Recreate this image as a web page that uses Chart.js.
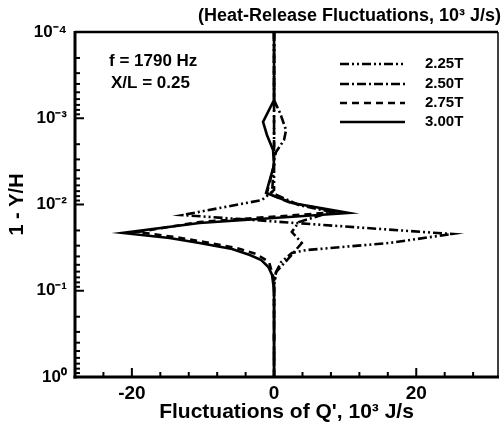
<!DOCTYPE html>
<html><head><meta charset="utf-8">
<script src="https://cdn.jsdelivr.net/npm/chart.js@4/dist/chart.umd.min.js"></script>
<style>html,body{margin:0;padding:0;background:#fff;}</style>
</head><body>
<canvas id="c" width="502" height="429"></canvas>
<script>
// ---- data (1 - Y/H values and Q' fluctuation values, 10^3 J/s) ----
const seriesNames = ['2.25T', '2.50T', '2.75T', '3.00T'];

const s225_pos = [1e-4, 6.79e-3, 8.87e-3, 0.01325, 0.02198, 0.02793, 0.03377, 0.0365, 0.0465, 0.06067, 0.0857, 1];
const s225_q   = [0,    0,       -1.7,    -12.9,   25.0,    16.2,    4.5,     2.5,    1.0,    0.28,    0,      0];

const s250_pos = [1e-4, 6.14e-4, 8.69e-4, 1.37e-3, 1.79e-3, 2.46e-3, 3.05e-3, 7.36e-3, 0.01014, 0.01222, 0.01596, 0.02085, 0.02793, 0.04168, 0.06067, 0.0857, 1];
const s250_q   = [0,    0,       0.84,    1.69,    1.4,     0.28,    0,       -0.28,   3.5,     8.1,     3.5,     2.5,     3.9,     2.1,     0.28,    0,      0];

const s275_pos = [1e-4, 3.48e-3, 7.36e-3, 9.61e-3, 0.01222, 0.01596, 0.02085, 0.02383, 0.02722, 0.0319, 0.0375, 0.0465, 0.075, 1];
const s275_q   = [0,    0,       -1.0,    2.4,     9.1,     -10.5,   -19.2,   -14.0,   -9.8,    -5.3,   -2.5,   -0.7,   0,     0];

const s300_pos = [1e-4, 6.14e-4, 8.01e-4, 1.104e-3, 1.563e-3, 2.333e-3, 3.48e-3, 7.36e-3, 9.61e-3, 0.01256, 0.01637, 0.02137, 0.02443, 0.02793, 0.0328, 0.0385, 0.044, 0.053, 0.0656, 0.098, 1];
const s300_q   = [0,    0,       -0.7,    -1.55,    -1.0,     -0.14,    0,       -1.12,   2.53,    10.5,    -10.5,   -21.3,   -14.7,   -10.5,   -5.9,   -3.4,   -1.8,  -0.8,  -0.28,  0,     0];

const yMajorTicks = [1e-4, 1e-3, 1e-2, 1e-1, 1];
const yTickLabels = ['10\u207B\u2074', '10\u207B\u00B3', '10\u207B\u00B2', '10\u207B\u00B9', '10\u2070'];
const xTickValues = [-28, -24, -20, -16, -12, -8, -4, 0, 4, 8, 12, 16, 20, 24, 28];
const xLabeledTicks = [-20, 0, 20];

const headerText = '(Heat-Release Fluctuations, 10\u00B3 J/s)';
const noteLines = ['f = 1790 Hz', 'X/L = 0.25'];
const xTitle = "Fluctuations of Q', 10\u00B3 J/s";
const yTitle = '1 - Y/H';

const FONT = "'Liberation Sans', Arial, Helvetica, sans-serif";
const dashes = [[9, 3, 2, 3, 2, 3], [9, 3, 2, 3], [7, 5], []];

function pts(pos, q) { return pos.map((p, i) => ({ x: q[i], y: p })); }
const allSeries = [[s225_pos, s225_q], [s250_pos, s250_q], [s275_pos, s275_q], [s300_pos, s300_q]];

const datasets = allSeries.map((s, i) => ({
  label: seriesNames[i],
  data: pts(s[0], s[1]),
  showLine: true,
  borderColor: '#000',
  borderWidth: 2.6,
  borderDash: dashes[i],
  pointRadius: 0,
  tension: 0,
  fill: false
}));

const decorPlugin = {
  id: 'decor',
  afterDraw(chart) {
    const ctx = chart.ctx, a = chart.chartArea;
    const xs = chart.scales.x, ys = chart.scales.y;
    ctx.save();
    ctx.strokeStyle = '#000';
    ctx.lineCap = 'butt';
    // frame
    ctx.lineWidth = 3;
    ctx.beginPath(); ctx.moveTo(a.left, a.top - 1); ctx.lineTo(a.left, a.bottom + 1.5); ctx.stroke();
    ctx.beginPath(); ctx.moveTo(a.left - 1.5, a.bottom); ctx.lineTo(a.right + 1, a.bottom); ctx.stroke();
    ctx.lineWidth = 2.5;
    ctx.beginPath(); ctx.moveTo(a.left, a.top); ctx.lineTo(a.right, a.top); ctx.stroke();
    ctx.lineWidth = 1.5;
    ctx.beginPath(); ctx.moveTo(a.right, a.top); ctx.lineTo(a.right, a.bottom); ctx.stroke();
    // inward ticks
    ctx.lineWidth = 2;
    ys.ticks.forEach(t => {
      const major = yMajorTicks.some(m => Math.abs(Math.log10(t.value) - Math.log10(m)) < 1e-6);
      const py = ys.getPixelForValue(t.value);
      const len = major ? 9 : 5;
      ctx.beginPath(); ctx.moveTo(a.left, py); ctx.lineTo(a.left + len, py); ctx.stroke();
    });
    xs.ticks.forEach(t => {
      if (t.value < xs.min || t.value > xs.max) return;
      const major = xLabeledTicks.includes(t.value);
      const px = xs.getPixelForValue(t.value);
      const len = major ? 9 : 5;
      ctx.beginPath(); ctx.moveTo(px, a.bottom); ctx.lineTo(px, a.bottom - len); ctx.stroke();
    });
    // header
    ctx.fillStyle = '#000';
    ctx.font = 'bold 18px ' + FONT;
    ctx.textAlign = 'right'; ctx.textBaseline = 'alphabetic';
    ctx.fillText(headerText, 501, 21);
    // notes
    ctx.font = 'bold 17px ' + FONT;
    ctx.textAlign = 'left'; ctx.textBaseline = 'middle';
    ctx.fillText(noteLines[0], 109, 61);
    ctx.fillText(noteLines[1], 111, 83);
    // legend
    const rows = [64, 84, 103, 122];
    chart.data.datasets.forEach((d, i) => {
      ctx.lineWidth = 2.4;
      ctx.setLineDash(d.borderDash);
      ctx.beginPath(); ctx.moveTo(340, rows[i]); ctx.lineTo(405, rows[i]); ctx.stroke();
      ctx.setLineDash([]);
      ctx.font = 'bold 15px ' + FONT;
      ctx.textAlign = 'left'; ctx.textBaseline = 'middle';
      ctx.fillText(d.label, 425, rows[i]);
    });
    ctx.restore();
  }
};

new Chart(document.getElementById('c'), {
  type: 'scatter',
  data: { datasets },
  plugins: [decorPlugin],
  options: {
    responsive: false,
    devicePixelRatio: 1,
    animation: false,
    layout: { padding: { top: 32, right: 4, left: 0, bottom: 0 } },
    plugins: { legend: { display: false }, tooltip: { enabled: false } },
    scales: {
      x: {
        type: 'linear', min: -28, max: 31.5,
        afterBuildTicks: s => { s.ticks = xTickValues.map(v => ({ value: v })); },
        afterFit: s => { s.height = 52; },
        grid: { display: false, drawTicks: false },
        border: { display: false },
        ticks: {
          autoSkip: false, maxRotation: 0, padding: 5, color: '#000',
          font: { family: FONT, size: 19, weight: 'bold' },
          callback: v => xLabeledTicks.includes(v) ? String(v) : ''
        },
        title: { display: true, text: xTitle, color: '#000', padding: { top: 0, bottom: 4 },
          font: { family: FONT, size: 21, weight: 'bold' } }
      },
      y: {
        type: 'logarithmic', min: 1e-4, max: 1, reverse: true,
        afterBuildTicks: s => {
          const t = [];
          for (let e = -4; e <= 0; e++) {
            for (let m = 1; m <= 9; m++) {
              const v = m * Math.pow(10, e);
              if (v <= 1.0000001) t.push({ value: v });
            }
          }
          s.ticks = t;
        },
        afterFit: s => { s.width = 75; },
        grid: { display: false, drawTicks: false },
        border: { display: false },
        ticks: {
          autoSkip: false, padding: 8, color: '#000',
          font: { family: FONT, size: 17, weight: 'bold' },
          callback: v => {
            const i = yMajorTicks.findIndex(m => Math.abs(Math.log10(v) - Math.log10(m)) < 1e-6);
            return i >= 0 ? yTickLabels[i] : '';
          }
        },
        title: { display: true, text: yTitle, color: '#000', padding: { top: 5, bottom: 0 },
          font: { family: FONT, size: 20, weight: 'bold' } }
      }
    }
  }
});
</script>
</body></html>
